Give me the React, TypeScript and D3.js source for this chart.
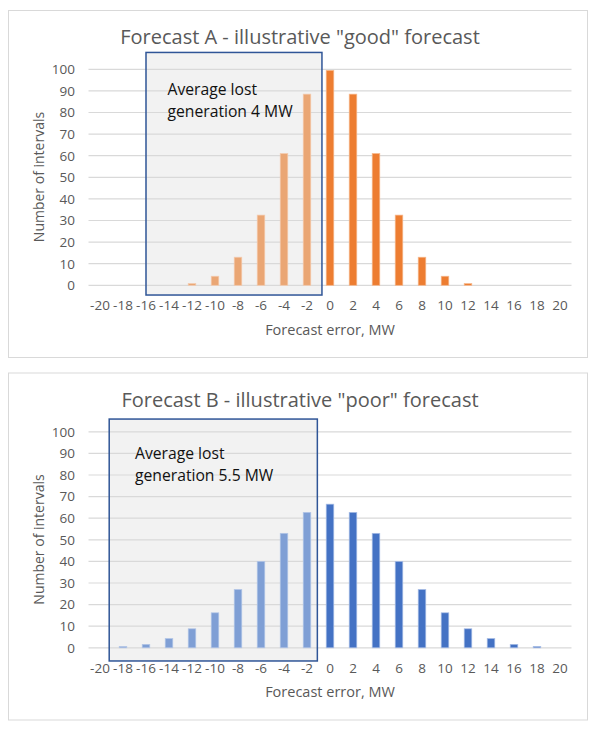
import * as d3 from 'd3';
import React from 'react';

const categories = [-20, -18, -16, -14, -12, -10, -8, -6, -4, -2, 0, 2, 4, 6, 8, 10, 12, 14, 16, 18, 20];
const forecastA = [0, 0, 0, 0, 0.8, 4.2, 13, 32.5, 61, 88.5, 99.5, 88.5, 61, 32.5, 13, 4.2, 0.8, 0, 0, 0, 0];
const forecastB = [0, 0.6, 1.6, 4.3, 8.8, 16.2, 27, 40, 53, 62.7, 66.5, 62.7, 53, 40, 27, 16.2, 8.8, 4.3, 1.6, 0.6, 0];
const yTicks = [0, 10, 20, 30, 40, 50, 60, 70, 80, 90, 100];

const FONT = "'Open Sans', sans-serif";
const GREY = "#595959";

function Panel(props: any): any {
  const { offset, title, values, negColor, posColor, strokeNeg, strokePos, box, note } = props;

  const x = d3.scaleBand<number>()
    .domain(categories)
    .range([88.5, 571.5])
    .padding(0);
  const xLin = d3.scaleLinear().domain([-20, 20]).range([100, 560]);
  const y = d3.scaleLinear().domain([0, 100]).range([285.3, 69.3]);

  const bw = x.bandwidth();
  const barW = bw * 0.33;

  const bx0 = xLin(box.x0);
  const bx1 = xLin(box.x1);
  const by0 = y(box.y1);
  const by1 = y(box.y0);

  return (
    <g transform={"translate(0," + offset + ")"}>
      <rect x={8.5} y={10.5} width={579} height={347} fill="#fff" stroke="#D9D9D9" strokeWidth={1} />
      <text x={300} y={44} textAnchor="middle" fontFamily={FONT} fontSize={20} fill={GREY}>{title}</text>

      <rect x={bx0} y={by0} width={bx1 - bx0} height={by1 - by0} fill="#F2F2F2" />

      {yTicks.map((t) => (
        <g key={t}>
          <line x1={88.5} x2={571.5} y1={y(t)} y2={y(t)} stroke="#D9D9D9" strokeWidth={1.2} />
          <text x={75} y={y(t)} dy="0.36em" textAnchor="end" fontFamily={FONT} fontSize={13.5} fill={GREY}>{t}</text>
        </g>
      ))}

      {categories.map((c, i) => {
        const v = values[i];
        if (!v) return null;
        const neg = c < 0;
        return (
          <rect
            key={c}
            x={(x(c) as number) + (bw - barW) / 2}
            y={y(v)}
            width={barW}
            height={y(0) - y(v)}
            fill={neg ? negColor : posColor}
            stroke={neg ? strokeNeg : strokePos}
            strokeWidth={0.7}
          />
        );
      })}

      {categories.map((c) => (
        <text key={c} x={(x(c) as number) + bw / 2} y={310} textAnchor="middle" fontFamily={FONT} fontSize={13.5} fill={GREY}>{c}</text>
      ))}

      <rect x={bx0} y={by0} width={bx1 - bx0} height={by1 - by0} fill="none" stroke="#2F5597" strokeWidth={1.5} />

      <text fontFamily={FONT} fontSize={15.7} fill="#111">
        <tspan x={note.x} y={note.y}>Average lost</tspan>
        <tspan x={note.x} y={note.y + 22.7}>{note.line2}</tspan>
      </text>

      <text transform="translate(43.5,177) rotate(-90)" textAnchor="middle" fontFamily={FONT} fontSize={14} fill={GREY}>Number of intervals</text>
      <text x={330} y={334.5} textAnchor="middle" fontFamily={FONT} fontSize={14.5} fill={GREY}>Forecast error, MW</text>
    </g>
  );
}

export default function App(): any {
  return (
    <svg width={600} height={731} style={{ position: "absolute", left: 0, top: 0, display: "block", background: "#fff" }}>
      <Panel
        offset={0}
        title={'Forecast A - illustrative "good" forecast'}
        values={forecastA}
        negColor="#EAA674"
        posColor="#ED7D31"
        strokeNeg="#F4CBAE"
        strokePos="#F7B98E"
        box={{ x0: -16, x1: -0.7, y0: -4.5, y1: 107.8 }}
        note={{ x: 167.5, y: 94.5, line2: "generation 4 MW" }}
      />
      <Panel
        offset={362.5}
        title={'Forecast B - illustrative "poor" forecast'}
        values={forecastB}
        negColor="#7F9FD5"
        posColor="#4472C4"
        strokeNeg="#B4C7E7"
        strokePos="#A9BEE6"
        box={{ x0: -19.2, x1: -1.1, y0: -6.1, y1: 105.9 }}
        note={{ x: 135, y: 96, line2: "generation 5.5 MW" }}
      />
    </svg>
  );
}
